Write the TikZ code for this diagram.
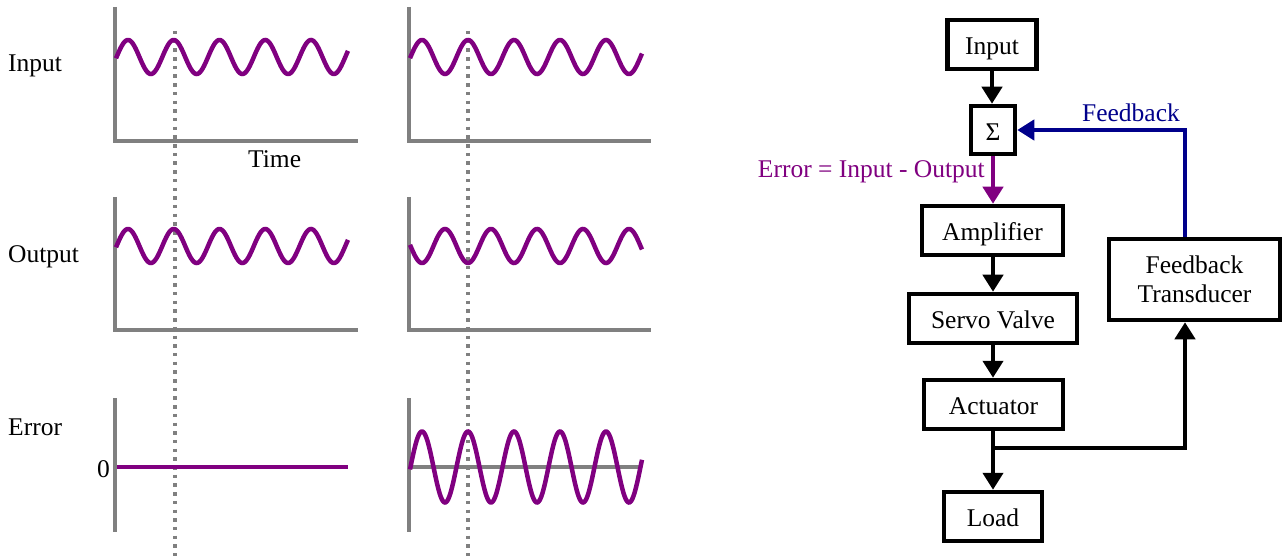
\documentclass[tikz,border=0pt]{standalone}
\usepackage{fontspec}
\setmainfont{Liberation Serif}
\usetikzlibrary{arrows.meta}
\definecolor{purp}{RGB}{128,0,128}
\definecolor{fbblue}{RGB}{0,0,139}
\definecolor{axgray}{RGB}{128,128,128}
\begin{document}
\begin{tikzpicture}[x=1pt,y=-1pt,
  box/.style={draw=black, line width=4.5pt, fill=white, font=\fontsize{25.5}{29}\selectfont, inner sep=0pt, align=center},
  onebox/.style={box, text height=20.5pt, text depth=0pt},
  arr/.style={line width=4.5pt, -{Triangle[length=17pt,width=20pt]}},
  axisline/.style={axgray, line width=3.6pt},
  wave/.style={purp, line width=4.5pt},
  guide/.style={axgray, line width=3.6pt, dash pattern=on 3.5pt off 5.2pt},
  lbl/.style={font=\fontsize{25.5}{29}\selectfont, inner sep=0pt}]
\useasboundingbox (0,0) rectangle (1283,556);

% ---------- axes ----------
\draw[axisline] (115,7) -- (115,141) -- (358,141);
\draw[axisline] (409,7) -- (409,141) -- (651,141);
\draw[axisline] (115,197) -- (115,330) -- (358,330);
\draw[axisline] (409,197) -- (409,330) -- (651,330);
\draw[axisline] (115,398) -- (115,532);
\draw[axisline] (409,398) -- (409,532);
\draw[axisline] (409,467) -- (641,467);

% ---------- guide lines ----------
\draw[guide] (175,31) -- (175,556);
\draw[guide] (468,31) -- (468,556);

% ---------- waves ----------
\draw[wave] plot[domain=116:348, samples=240, smooth] (\x, {57 - 17*cos(7.8689*(\x-128))});
\draw[wave] plot[domain=410:642, samples=240, smooth] (\x, {57 - 17*cos(7.8261*(\x-422))});
\draw[wave] plot[domain=116:348, samples=240, smooth] (\x, {246 - 17*cos(7.8689*(\x-128))});
\draw[wave] plot[domain=410:642, samples=240, smooth] (\x, {246 + 17*cos(7.8261*(\x-422))});
\draw[wave] (117,467) -- (348,467);
\draw[wave] plot[domain=410:642, samples=300, smooth] (\x, {467 - 35.5*cos(7.8261*(\x-422))});

% ---------- left labels ----------
\node[lbl, anchor=base west] (linput) at (8,72) {Input};
\node[lbl, anchor=base west] (ltime) at (248,168) {Time};
\node[lbl, anchor=base west] (loutput) at (8,262) {Output};
\node[lbl, anchor=base west] (lerror) at (8,435) {Error};
\node[lbl, anchor=base west] (lzero) at (97,477) {0};

% ---------- block diagram ----------
\node[onebox, minimum width=89pt, minimum height=49pt] (inp) at (992,44.5) {Input};
\node[onebox, minimum width=44pt, minimum height=48pt] (sum) at (993,130) {Σ};
\node[onebox, minimum width=141pt, minimum height=49pt] (amp) at (992.5,230.5) {Amplifier};
\node[onebox, minimum width=168pt, minimum height=49pt] (sv) at (993,318.5) {Servo Valve};
\node[onebox, minimum width=139pt, minimum height=49pt] (act) at (993.5,404.5) {Actuator};
\node[onebox, minimum width=98pt, minimum height=49pt] (load) at (993,516.5) {Load};
\node[box, minimum width=171pt, minimum height=81pt] (ft) at (1194.5,279.5) {Feedback\\Transducer};

\coordinate (j) at (993,448);
\coordinate (fbx) at (1185,0);

\draw[arr] (inp.south) -- (inp.south |- sum.north);
\draw[arr, purp] (sum.south) -- (sum.south |- amp.north);
\draw[arr] (sum.south |- amp.south) -- (sum.south |- sv.north);
\draw[arr] (sum.south |- sv.south) -- (sum.south |- act.north);
\draw[line width=4.5pt] (sum.south |- act.south) -- (j);
\draw[arr] (j) -- (j |- load.north);
\draw[arr] (j) -| (fbx |- ft.south);
\draw[arr, fbblue] (fbx |- ft.north) |- (sum.east);

\node[lbl, purp, anchor=east] (errlbl) at (985,172) {Error = Input - Output};
\node[lbl, fbblue] (fblbl) at (1131,113) {Feedback};
\end{tikzpicture}
\end{document}
